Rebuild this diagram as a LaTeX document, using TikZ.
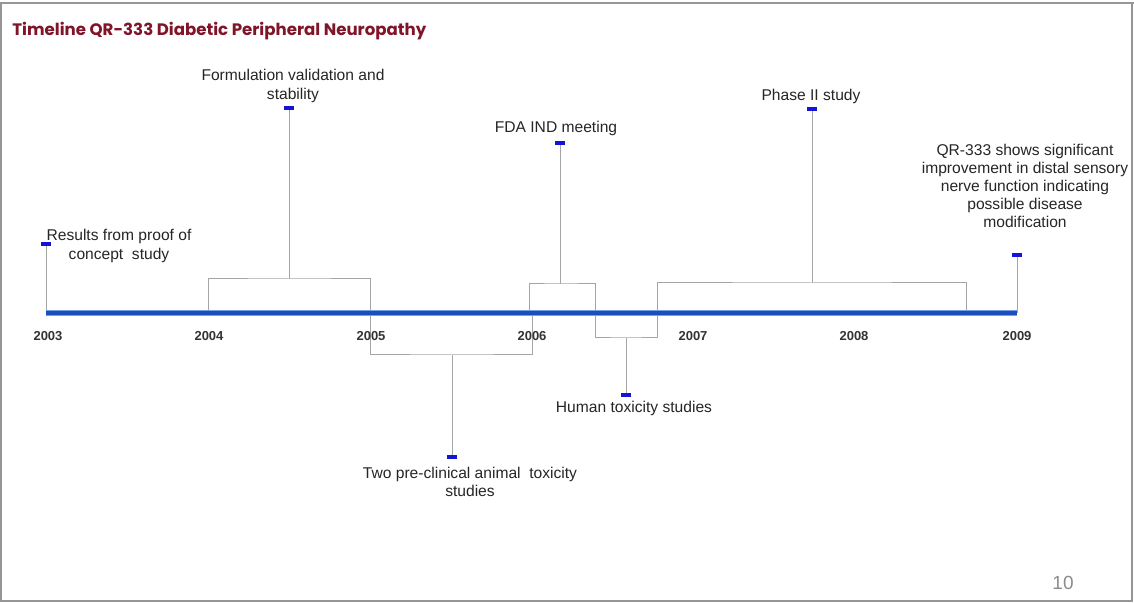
\documentclass[tikz,border=0pt]{standalone}
\usepackage{fontspec}
\setmainfont{Liberation Sans}
\newfontfamily\titlefont{Poppins}
\usepackage{tikz}
\usetikzlibrary{positioning}
\definecolor{titlered}{RGB}{128,20,40}
\definecolor{axisblue}{RGB}{28,78,188}
\definecolor{axislight}{RGB}{115,158,228}
\definecolor{markblue}{RGB}{20,20,215}
\definecolor{stemgray}{RGB}{165,165,165}
\definecolor{framegray}{RGB}{150,150,150}

\begin{document}
\begin{tikzpicture}[x=0.5pt, y=-0.5pt,
  evmark/.style={
    rectangle, fill=markblue, minimum width=5pt, minimum height=2pt,
    inner sep=0pt
  },
  evtext/.style={
    align=center, font=\fontsize{7.8}{9.4}\selectfont, inner sep=1pt,
    text=black!85
  },
  yearlbl/.style={font=\fontsize{6.5}{7}\selectfont\bfseries, text=black!80},
  conn/.style={draw=stemgray, line width=0.5pt}
]

\useasboundingbox (0,0) rectangle (1134,603);
\shade[top color=white, middle color=black!9, bottom color=white]
  (0,0) rectangle (1134,603);
\draw[framegray, line width=0.6pt] (1,3) rectangle (1132,601);
\draw[framegray, line width=1.4pt] (0,3) -- (1134,3);

\node[anchor=west, inner sep=0pt, text=titlered,
  font=\titlefont\fontsize{8.3}{10}\selectfont\bfseries] (title) at (12,31)
  {Timeline QR-333 Diabetic Peripheral Neuropathy};

% axis points
\coordinate (t2003) at (46,313);
\coordinate (t2004) at (208,313);
\coordinate (t2005) at (370,313);
\coordinate (t2006) at (532,313);
\coordinate (t2007) at (693,313);
\coordinate (t2008) at (854,313);
\coordinate (t2009) at (1017,313);
\coordinate (a529) at (529,313);
\coordinate (a595) at (595,313);
\coordinate (a657) at (657,313);
\coordinate (a966) at (966,313);

% bracket joins
\coordinate (fvjoin) at (289,279);
\coordinate (twjoin) at (452,355);
\coordinate (fdjoin) at (560,284);
\coordinate (hujoin) at (626,338);
\coordinate (phjoin) at (812,283);

% markers
\node[evmark] (rsmark) at (46,244) {};
\node[evmark] (fvmark) at (289,108) {};
\node[evmark] (twmark) at (452,457) {};
\node[evmark] (fdmark) at (560,143) {};
\node[evmark] (humark) at (626,395) {};
\node[evmark] (phmark) at (812,109) {};
\node[evmark] (qrmark) at (1017,255) {};

% stems and brackets
\draw[conn] (t2003) -- (rsmark);
\draw[conn] (t2004) |- (fvjoin) -| (t2005);
\draw[conn] (fvjoin) -- (fvmark);
\draw[conn] (t2005) |- (twjoin) -| (t2006);
\draw[conn] (twjoin) -- (twmark);
\draw[conn] (a529) |- (fdjoin) -| (a595);
\draw[conn] (fdjoin) -- (fdmark);
\draw[conn] (a595) |- (hujoin) -| (a657);
\draw[conn] (hujoin) -- (humark);
\draw[conn] (a657) |- (phjoin) -| (a966);
\draw[conn] (phjoin) -- (phmark);
\draw[conn] (t2009) -- (qrmark);

% axis
\draw[axislight, line width=3.2pt] (t2003) -- (t2009);
\draw[axisblue, line width=2.2pt] (t2003) -- (t2009);

% years
\node[yearlbl] (l2003) at (48,336) {2003};
\node[yearlbl] (l2004) at (209,336) {2004};
\node[yearlbl] (l2005) at (371,336) {2005};
\node[yearlbl] (l2006) at (532,336) {2006};
\node[yearlbl] (l2007) at (693,336) {2007};
\node[yearlbl] (l2008) at (854,336) {2008};
\node[yearlbl] (l2009) at (1017,336) {2009};

% event texts
\node[evtext] (rstext) at (119,246) {Results from proof of\\concept\ \ study};
\node[evtext] (fvtext) at (293,86) {Formulation validation\ and\\stability};
\node[evtext] (twtext) at (470,482) {Two pre-clinical animal\ \ toxicity\\studies};
\node[evtext] (fdtext) at (556,128) {FDA IND meeting};
\node[evtext] (hutext) at (634,408) {Human\ toxicity studies};
\node[evtext] (phtext) at (811,96) {Phase II study};
\node[evtext, font=\fontsize{7.8}{9}\selectfont] (qrtext) at (1025,186)
  {QR-333 shows significant\\improvement in distal sensory\\nerve function indicating\\possible disease\\modification};

\node[text=black!45, font=\fontsize{9.5}{11}\selectfont] (pgnum) at (1063,583) {10};

\end{tikzpicture}
\end{document}
